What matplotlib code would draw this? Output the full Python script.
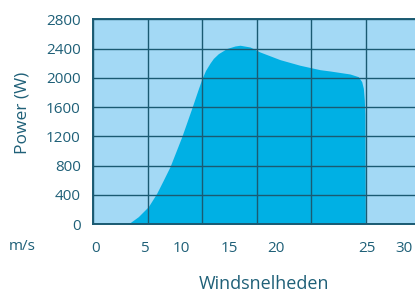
import matplotlib
matplotlib.use("Agg")
import matplotlib.pyplot as plt

# ---- data ----
wind = [0, 3.07, 3.37, 4.13, 5.05, 5.82, 6.43, 7.04, 8.12, 9.03, 9.6, 9.95,
        10.3, 10.71, 11.02, 11.48, 12.25, 13.01, 13.47, 14.39, 15.30, 17.14,
        18.98, 20.81, 21.73, 23.56, 24.33, 24.64, 24.79, 24.88, 24.93, 24.97, 30]
power = [0, 0, 18, 100, 237, 420, 600, 784, 1194, 1580, 1830, 1980,
         2100, 2200, 2265, 2330, 2400, 2435, 2445, 2421, 2353, 2248,
         2171, 2111, 2093, 2052, 2015, 1947, 1856, 1696, 1500, 0, 0]
grid_x = [0, 5, 10, 15, 20, 25, 30]
yticks = [0, 400, 800, 1200, 1600, 2000, 2400, 2800]
xlabel_pos = [0.18, 4.65, 8.05, 12.46, 16.77, 25.13, 28.53]
xlabel_text = ["0", "5", "10", "15", "20", "25", "30"]

# ---- style ----
bg = "#a3d9f5"
fill_c = "#00b0e4"
grid_c = "#1a5a72"
text_c = "#1f6078"
plt.rcParams['font.family'] = ['Open Sans', 'DejaVu Sans']

fig = plt.figure(figsize=(4.15, 2.94), dpi=100)
W, H = 415, 294
left, right, top, bottom = 93.3, 420.1, 19.3, 224.0
ax = fig.add_axes([left / W, (H - bottom) / H, (right - left) / W, (bottom - top) / H])
ax.set_facecolor(bg)
ax.fill_between(wind, power, 0, color=fill_c, lw=0, zorder=1)
ax.set_xlim(0, 30)
ax.set_ylim(0, 2800)

ax.set_xticks(grid_x)
ax.set_xticklabels([])
ax.set_xticks(xlabel_pos, xlabel_text, minor=True)
ax.set_yticks(yticks)
ax.grid(True, which='major', color=grid_c, lw=1.0)
ax.tick_params(axis='both', which='both', length=0, colors=text_c, labelsize=11)
ax.tick_params(axis='x', which='minor', pad=12)
ax.tick_params(axis='y', pad=9)
for s in ax.spines.values():
    s.set_color(grid_c)
    s.set_linewidth(1.4)

ax.set_ylabel("Power (W)", color=text_c, fontsize=12.5)
ax.yaxis.set_label_coords(-0.218, 0.542)
ax.yaxis.label.set_va('center')
fig.text(264 / W, 1 - 289 / H, "Windsnelheden", color=text_c, fontsize=13,
         ha='center', va='baseline')
fig.text(22 / W, 1 - 246 / H, "m/s", color=text_c, fontsize=11, ha='center', va='center')

fig.savefig("out.png", dpi=100)
